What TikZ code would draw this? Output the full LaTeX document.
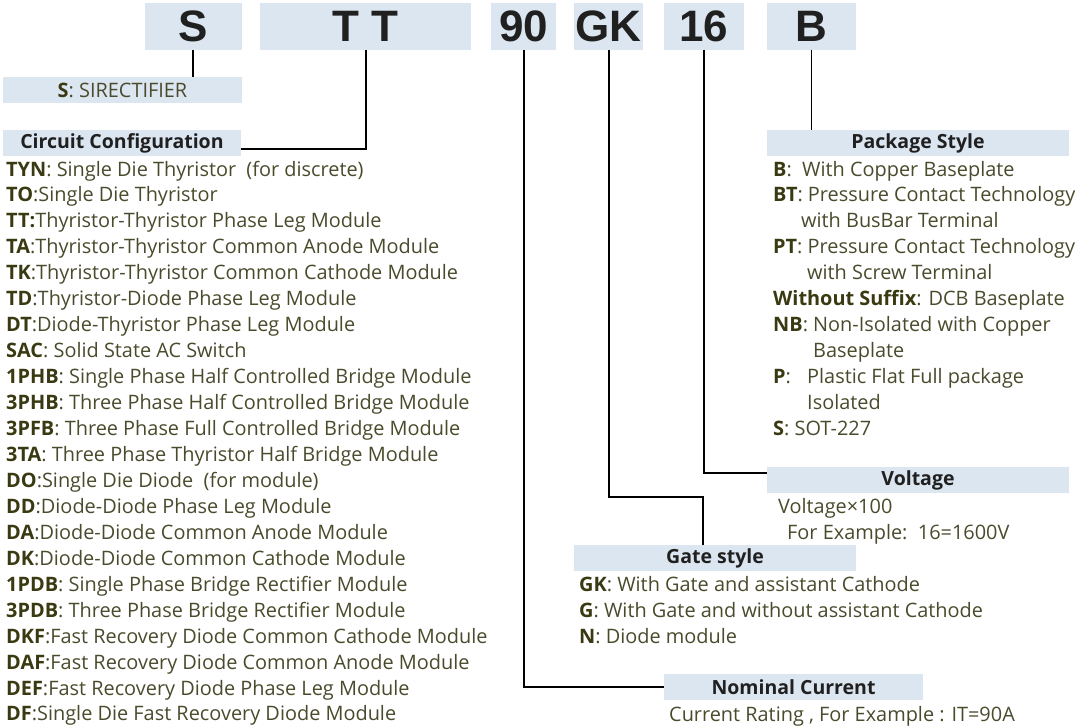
\documentclass[tikz,border=0pt]{standalone}
\usepackage{fontspec}
\setmainfont{Open Sans}
\newfontfamily\bigfont{Liberation Sans}
\definecolor{boxfill}{HTML}{DCE6F1}
\definecolor{labc}{HTML}{3A3A12}
\definecolor{bodyc}{HTML}{4A4A2C}
\definecolor{headc}{HTML}{202020}
\newcommand{\lb}[1]{{\bfseries\color{labc}#1}}
\tikzset{
  code/.style={fill=boxfill, inner sep=0pt, minimum height=47pt, font=\bigfont\bfseries\fontsize{44}{44}\selectfont, text=headc},
  hbox/.style={fill=boxfill, inner sep=0pt, minimum height=26pt, font=\bfseries\fontsize{19.5}{20}\selectfont, text=headc},
  item/.style={anchor=base west, inner sep=0pt, font=\fontsize{19.9}{20}\selectfont, text=bodyc},
  conn/.style={line width=2pt, black},
}
\begin{document}
\begin{tikzpicture}[x=1pt,y=-1pt]
\useasboundingbox (0,0) rectangle (1077,726);
% code boxes
\node[code, minimum width=97pt] (S) at (193.3,26) {S};
\node[code, minimum width=211pt] (TT) at (365.5,26) {T T};
\node[code, minimum width=65pt] (N90) at (523.5,26) {90};
\node[code, minimum width=69pt] (GK) at (608.5,26) {GK};
\node[code, minimum width=80pt] (N16) at (704,26) {16};
\node[code, minimum width=89pt] (B) at (811.5,26) {B};
% header boxes
\node[hbox, minimum width=239pt, font=\fontsize{19.9}{20}\selectfont, text=bodyc] (sir) at (122.5,90) {\lb{S}: SIRECTIFIER};
\node[hbox, minimum width=238pt] (cc) at (122,143) {Circuit Configuration};
\node[hbox, minimum width=302pt] (pkg) at (918,143) {Package Style};
\node[hbox, minimum width=302pt] (volt) at (918,480) {Voltage};
\node[hbox, minimum width=282pt] (gate) at (715,558) {Gate style};
\node[hbox, minimum width=259pt] (nom) at (793.5,687) {Nominal Current};
% connectors
\coordinate (gkbend) at (703,497);
\draw[conn] (S.south) -- (S.south |- sir.north);
\draw[conn] (TT.south) |- ([yshift=-6pt]cc.east);
\draw[conn] (N90.south) |- (nom.west);
\draw[conn] (GK.south) |- (gkbend) -- (gkbend |- gate.north);
\draw[conn] (N16.south) |- ([yshift=7pt]volt.west);
\draw[conn, line width=1.5pt] (B.south) -- (B.south |- pkg.north);
% circuit configuration list
\foreach \t [count=\i from 0] in {
  {\lb{TYN}: Single Die Thyristor\ \ (for discrete)},
  {\lb{TO}:Single Die Thyristor},
  {\lb{TT:}Thyristor-Thyristor Phase Leg Module},
  {\lb{TA}:Thyristor-Thyristor Common Anode Module},
  {\lb{TK}:Thyristor-Thyristor Common Cathode Module},
  {\lb{TD}:Thyristor-Diode Phase Leg Module},
  {\lb{DT}:Diode-Thyristor Phase Leg Module},
  {\lb{SAC}: Solid State AC Switch},
  {\lb{1PHB}: Single Phase Half Controlled Bridge Module},
  {\lb{3PHB}: Three Phase Half Controlled Bridge Module},
  {\lb{3PFB}: Three Phase Full Controlled Bridge Module},
  {\lb{3TA}: Three Phase Thyristor Half Bridge Module},
  {\lb{DO}:Single Die Diode\ \ (for module)},
  {\lb{DD}:Diode-Diode Phase Leg Module},
  {\lb{DA}:Diode-Diode Common Anode Module},
  {\lb{DK}:Diode-Diode Common Cathode Module},
  {\lb{1PDB}: Single Phase Bridge Rectifier Module},
  {\lb{3PDB}: Three Phase Bridge Rectifier Module},
  {\lb{DKF}:Fast Recovery Diode Common Cathode Module},
  {\lb{DAF}:Fast Recovery Diode Common Anode Module},
  {\lb{DEF}:Fast Recovery Diode Phase Leg Module},
  {\lb{DF}:Single Die Fast Recovery Diode Module}}
  \node[item] (c\i) at (6,176+25.95*\i) {\t};
% package style list
\node[item] (p0) at (773,176) {\lb{B}:\ \ With Copper Baseplate};
\node[item] (p1) at (773,201.9) {\lb{BT}: Pressure Contact Technology};
\node[item] (p2) at (801,227.8) {with BusBar Terminal};
\node[item] (p3) at (773,253.7) {\lb{PT}: Pressure Contact Technology};
\node[item] (p4) at (807,279.6) {with Screw Terminal};
\node[item] (p5) at (773,305.5) {\lb{Without Suffix}: DCB Baseplate};
\node[item] (p6) at (773,331.4) {\lb{NB}: Non-Isolated with Copper};
\node[item] (p7) at (813,357.3) {Baseplate};
\node[item] (p8) at (773,383.2) {\lb{P}:};
\node[item] (p8b) at (807,383.2) {Plastic Flat Full package};
\node[item] (p9) at (807,409.1) {Isolated};
\node[item] (p10) at (773,435) {\lb{S}: SOT-227};
% voltage
\node[item] (v0) at (778,513) {Voltage×100};
\node[item] (v1) at (787,539) {For Example:\ \ 16=1600V};
% gate
\node[item] (g0) at (579,591) {\lb{GK}: With Gate and assistant Cathode};
\node[item] (g1) at (579,617) {\lb{G}: With Gate and without assistant Cathode};
\node[item] (g2) at (579,643) {\lb{N}: Diode module};
% current
\node[item] (i0) at (669,721) {Current Rating , For Example : IT=90A};
\end{tikzpicture}
\end{document}
